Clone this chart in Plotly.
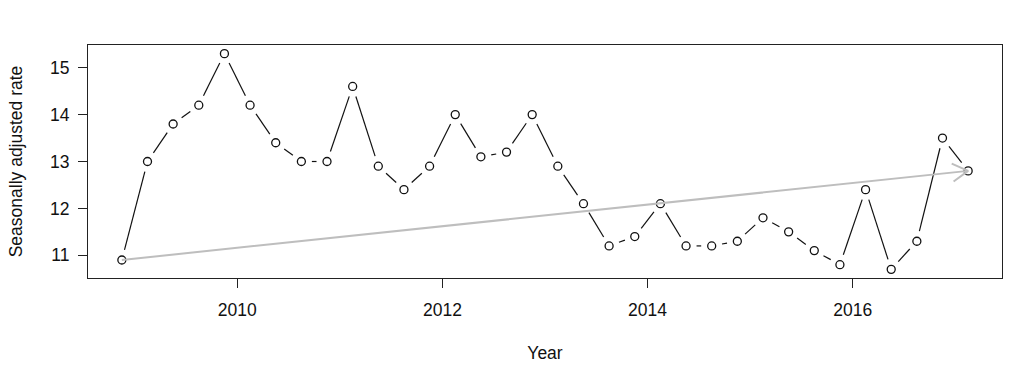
import numpy as np
import plotly.graph_objects as go

# ---- data (quarterly, seasonally adjusted rate) ----
year = [2008.875, 2009.125, 2009.375, 2009.625, 2009.875, 2010.125, 2010.375, 2010.625,
        2010.875, 2011.125, 2011.375, 2011.625, 2011.875, 2012.125, 2012.375, 2012.625,
        2012.875, 2013.125, 2013.375, 2013.625, 2013.875, 2014.125, 2014.375, 2014.625,
        2014.875, 2015.125, 2015.375, 2015.625, 2015.875, 2016.125, 2016.375, 2016.625,
        2016.875, 2017.125]
rate = [10.9, 13.0, 13.8, 14.2, 15.3, 14.2, 13.4, 13.0,
        13.0, 14.6, 12.9, 12.4, 12.9, 14.0, 13.1, 13.2,
        14.0, 12.9, 12.1, 11.2, 11.4, 12.1, 11.2, 11.2,
        11.3, 11.8, 11.5, 11.1, 10.8, 12.4, 10.7, 11.3,
        13.5, 12.8]
x_ticks = [2010, 2012, 2014, 2016]
y_ticks = [11, 12, 13, 14, 15]

# ---- layout constants ----
WIDTH, HEIGHT = 1024, 387
ML, MR, MT, MB = 88, 22, 45, 109
FONT = "Liberation Sans, Arial, Helvetica, sans-serif"
FS = 17.5
GAP = 10.5          # px gap around points (R type = "b")
HEAD_LEN = 18       # px arrowhead arm length
HEAD_ANG = np.deg2rad(30)
GREY = "#bebebe"

x = np.array(year, dtype=float)
y = np.array(rate, dtype=float)

# R-style 4% axis extension
def ext(v):
    lo, hi = float(np.min(v)), float(np.max(v))
    d = 0.04 * (hi - lo)
    return [lo - d, hi + d]

xr = ext(x)
yr = ext(y)
kx = (WIDTH - ML - MR) / (xr[1] - xr[0])   # px per data unit
ky = (HEIGHT - MT - MB) / (yr[1] - yr[0])

# shortened segments between points
sx, sy = [], []
for i in range(len(x) - 1):
    dxp = (x[i + 1] - x[i]) * kx
    dyp = (y[i + 1] - y[i]) * ky
    L = np.hypot(dxp, dyp)
    if L <= 2 * GAP:
        continue
    ux, uy = dxp / L, dyp / L
    sx += [x[i] + ux * GAP / kx, x[i + 1] - ux * GAP / kx, None]
    sy += [y[i] + uy * GAP / ky, y[i + 1] - uy * GAP / ky, None]

# arrow from first to last point
tx, ty = x[-1], y[-1]
dxp = (x[-1] - x[0]) * kx
dyp = (y[-1] - y[0]) * ky
L = np.hypot(dxp, dyp)
bx, by = -dxp / L, -dyp / L
arms = []
for s in (1, -1):
    a = s * HEAD_ANG
    rx = bx * np.cos(a) - by * np.sin(a)
    ry = bx * np.sin(a) + by * np.cos(a)
    arms.append((tx + rx * HEAD_LEN / kx, ty + ry * HEAD_LEN / ky))
ax_ = [x[0], tx, arms[0][0], tx, arms[1][0]]
ay_ = [y[0], ty, arms[0][1], ty, arms[1][1]]

fig = go.Figure()
fig.add_trace(go.Scatter(x=sx, y=sy, mode="lines",
                         line=dict(color="#111111", width=1.2),
                         hoverinfo="skip", showlegend=False))
fig.add_trace(go.Scatter(x=year, y=rate, mode="markers",
                         marker=dict(symbol="circle", size=8, color="white",
                                     line=dict(color="#111111", width=1.3)),
                         showlegend=False))
fig.add_trace(go.Scatter(x=ax_, y=ay_, mode="lines",
                         line=dict(color=GREY, width=2),
                         hoverinfo="skip", showlegend=False))

axis_common = dict(showline=True, linecolor="#222222", linewidth=1, mirror=True,
                   ticks="outside", ticklen=9, tickwidth=1, tickcolor="#222222",
                   showgrid=False, zeroline=False,
                   tickfont=dict(family=FONT, size=FS, color="#111111"))

fig.update_layout(
    width=WIDTH, height=HEIGHT, autosize=False,
    margin=dict(l=ML, r=MR, t=MT, b=MB),
    paper_bgcolor="white", plot_bgcolor="white",
    font=dict(family=FONT, size=FS, color="#111111"),
    xaxis=dict(range=xr, tickvals=x_ticks, ticktext=[str(v) for v in x_ticks],
               ticklabelstandoff=7,
               title=dict(text="Year", font=dict(family=FONT, size=FS), standoff=27),
               **axis_common),
    yaxis=dict(range=yr, tickvals=y_ticks, ticktext=[str(v) for v in y_ticks],
               ticklabelstandoff=5,
               title=dict(text="Seasonally adjusted rate", font=dict(family=FONT, size=FS),
                          standoff=22),
               **axis_common),
)

fig.write_html("out.html", config={"displayModeBar": False},
               post_script="document.body.style.margin='0';document.body.style.padding='0';")
